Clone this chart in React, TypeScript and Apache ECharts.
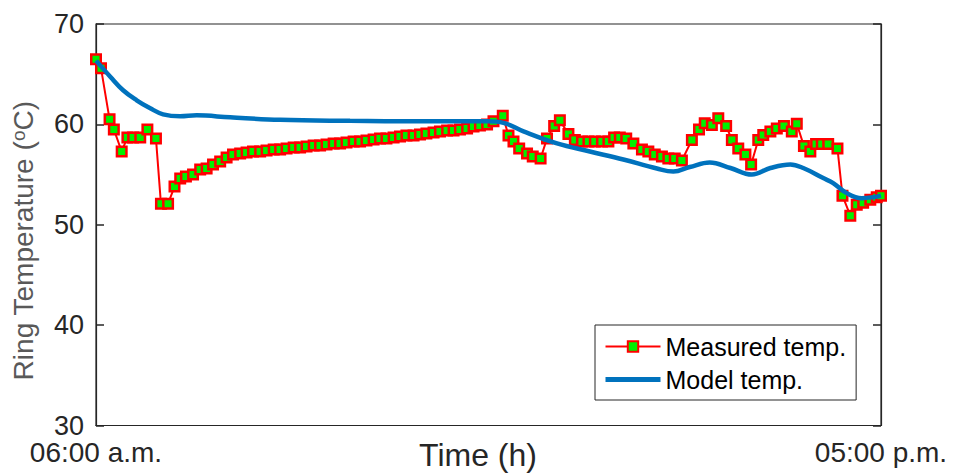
import React, { useEffect, useRef } from "react";
import * as echarts from "echarts";

// Hours elapsed since 06:00 a.m.
const measuredTime = [
  0.0, 0.07, 0.19, 0.25, 0.36, 0.44, 0.52, 0.62, 0.72, 0.84, 0.91, 1.01, 1.1, 1.18, 1.26, 1.36, 1.46, 1.55,
  1.64, 1.74, 1.83, 1.92, 2.02, 2.11, 2.2, 2.3, 2.39, 2.49, 2.58, 2.67, 2.77, 2.86, 2.95, 3.05, 3.14, 3.23,
  3.33, 3.42, 3.51, 3.61, 3.7, 3.79, 3.89, 3.98, 4.07, 4.17, 4.26, 4.35, 4.45, 4.54, 4.63, 4.73, 4.82, 4.92,
  5.01, 5.1, 5.2, 5.29, 5.38, 5.48, 5.57, 5.7, 5.78, 5.85, 5.93, 6.04, 6.12, 6.23, 6.32, 6.42, 6.5, 6.62,
  6.71, 6.81, 6.9, 6.99, 7.09, 7.18, 7.26, 7.34, 7.43, 7.53, 7.65, 7.74, 7.83, 7.93, 8.02, 8.11, 8.21, 8.35,
  8.45, 8.53, 8.63, 8.72, 8.83, 8.91, 9.0, 9.1, 9.18, 9.28, 9.35, 9.45, 9.54, 9.64, 9.75, 9.82, 9.92, 10.01,
  10.09, 10.17, 10.26, 10.39, 10.46, 10.57, 10.66, 10.75, 10.85, 10.94, 11.0,
];
const measuredTemp = [
  66.5, 65.6, 60.5, 59.5, 57.3, 58.7, 58.7, 58.7, 59.5, 58.6, 52.1, 52.1, 53.8, 54.6, 54.8, 55.0, 55.5, 55.6,
  56.0, 56.3, 56.7, 57.0, 57.1, 57.2, 57.3, 57.3, 57.4, 57.5, 57.5, 57.6, 57.7, 57.7, 57.8, 57.9, 57.9, 58.0,
  58.1, 58.1, 58.2, 58.3, 58.3, 58.4, 58.5, 58.6, 58.6, 58.7, 58.8, 58.9, 58.9, 59.0, 59.1, 59.2, 59.3, 59.4,
  59.4, 59.5, 59.6, 59.8, 59.9, 60.0, 60.3, 60.85, 58.9, 58.3, 57.6, 57.1, 56.8, 56.6, 58.6, 59.85, 60.4, 59.05,
  58.45, 58.3, 58.3, 58.3, 58.3, 58.3, 58.7, 58.7, 58.6, 58.1, 57.5, 57.3, 57.0, 56.8, 56.6, 56.6, 56.4, 58.45,
  59.5, 60.1, 59.95, 60.6, 59.85, 58.45, 57.6, 57.0, 56.0, 58.45, 58.95, 59.3, 59.6, 59.85, 59.3, 60.05, 57.85, 57.3,
  58.05, 58.05, 58.05, 57.6, 52.9, 50.9, 52.0, 52.2, 52.5, 52.75, 52.9,
];
const modelTime = [
  0.0, 0.2, 0.38, 0.57, 0.76, 0.94, 1.18, 1.41, 1.88, 2.58, 3.56, 4.54, 5.48, 5.71, 5.99, 6.46, 6.92, 7.39,
  7.86, 8.09, 8.32, 8.6, 8.89, 9.19, 9.45, 9.73, 9.91, 10.19, 10.33, 10.52, 10.73, 10.89, 11.0,
];
const modelTemp = [
  66.35, 64.75, 63.4, 62.4, 61.6, 61.0, 60.8, 60.9, 60.7, 60.45, 60.35, 60.3, 60.3, 60.15, 59.3, 58.1, 57.3, 56.5,
  55.6, 55.3, 55.75, 56.2, 55.65, 55.0, 55.65, 56.0, 55.65, 54.65, 54.15, 53.15, 52.65, 52.75, 52.9,
];
const xTickLabels = ["06:00 a.m.", "05:00 p.m."];
const seriesNames = ["Measured temp.", "Model temp."];

const FONT = "'Liberation Sans', Arial, Helvetica, sans-serif";

export default function App() {
  const ref = useRef<HTMLDivElement>(null);
  useEffect(() => {
    if (!ref.current) return;
    const chart = echarts.init(ref.current, undefined, { renderer: "svg" });
    const axisColor = "#262626";
    chart.setOption({
      animation: false,
      backgroundColor: "#ffffff",
      grid: {
        left: 96,
        right: 74,
        top: 24,
        bottom: 48.5,
        show: true,
        borderColor: axisColor,
        borderWidth: 1.2,
        backgroundColor: "transparent",
        containLabel: false,
        outerBoundsMode: "none",
      },
      legend: {
        data: [
          { name: seriesNames[0], lineStyle: { width: 2 } },
          { name: seriesNames[1], itemStyle: { opacity: 0 }, lineStyle: { width: 5 } },
        ],
        orient: "vertical",
        left: 595,
        top: 325,
        padding: [9, 10, 8, 8],
        itemGap: 8,
        itemWidth: 55,
        itemHeight: 13,
        backgroundColor: "#ffffff",
        borderColor: axisColor,
        borderWidth: 1,
        textStyle: { fontSize: 25, color: "#000000", fontFamily: FONT },
      },
      xAxis: {
        type: "value",
        min: 0,
        max: 11,
        interval: 11,
        name: "Time (h)",
        nameLocation: "middle",
        nameGap: 13,
        nameMoveOverlap: false,
        nameTextStyle: {
          fontSize: 32,
          color: axisColor,
          fontFamily: FONT,
          padding: [0, 21, 0, 0],
          verticalAlign: "top",
        },
        axisLine: { show: true, lineStyle: { color: axisColor, width: 1.2 } },
        axisTick: { show: false },
        splitLine: { show: false },
        axisLabel: {
          fontSize: 28,
          lineHeight: 26,
          color: axisColor,
          fontFamily: FONT,
          margin: 14,
          formatter: (v: number) => (v === 0 ? xTickLabels[0] : v === 11 ? xTickLabels[1] : ""),
        },
      },
      yAxis: [
        {
          type: "value",
          min: 30,
          max: 70,
          interval: 10,
          name: "Ring Temperature ({sup|o}C)",
          nameLocation: "middle",
          nameGap: 58,
          nameMoveOverlap: false,
          nameTextStyle: {
            fontSize: 28,
            color: "#595959",
            fontFamily: FONT,
            padding: [0, 32, 0, 0],
            rich: {
              sup: { fontSize: 19, color: "#595959", fontFamily: FONT, verticalAlign: "top", padding: [0, 0, 10, 0] },
            },
          },
          axisLine: { show: true, lineStyle: { color: axisColor, width: 1.2 } },
          axisTick: { show: true, inside: true, length: 8, lineStyle: { color: axisColor, width: 1.5 } },
          splitLine: { show: false },
          axisLabel: { fontSize: 27, lineHeight: 20, color: axisColor, fontFamily: FONT, margin: 12 },
        },
        {
          type: "value",
          min: 30,
          max: 70,
          interval: 10,
          position: "right",
          axisLine: { show: true, lineStyle: { color: axisColor, width: 1.2 } },
          axisTick: { show: true, inside: true, length: 8, lineStyle: { color: axisColor, width: 1.5 } },
          splitLine: { show: false },
          axisLabel: { show: false },
        },
      ],
      series: [
        {
          name: seriesNames[0],
          type: "line",
          data: measuredTime.map((t, i) => [t, measuredTemp[i]]),
          lineStyle: { color: "#ff0000", width: 2 },
          symbol: "rect",
          symbolSize: 9.5,
          showAllSymbol: true,
          itemStyle: { color: "#00f000", borderColor: "#ff0000", borderWidth: 2.5 },
          z: 2,
        },
        {
          name: seriesNames[1],
          type: "line",
          data: modelTime.map((t, i) => [t, modelTemp[i]]),
          smooth: 0.4,
          showSymbol: false,
          symbol: "none",
          lineStyle: { color: "#0072bd", width: 4.5 },
          itemStyle: { color: "#0072bd" },
          z: 3,
        },
      ],
    });
    return () => chart.dispose();
  }, []);
  return <div ref={ref} style={{ position: "absolute", left: 0, top: 0, width: 955, height: 474 }} />;
}
